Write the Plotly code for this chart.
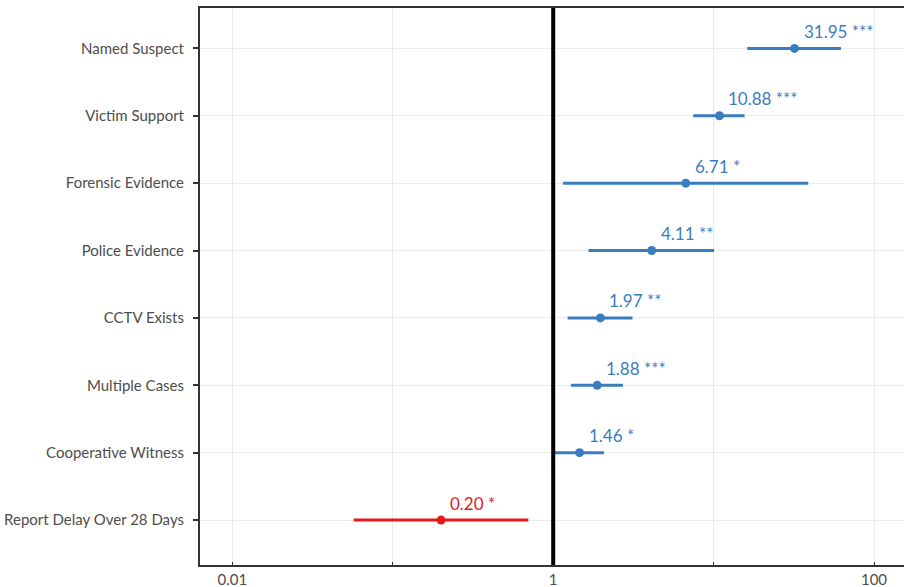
import math
import plotly.graph_objects as go

# Odds ratios with 95% confidence intervals (log scale)
factors = ["Report Delay Over 28 Days", "Cooperative Witness", "Multiple Cases",
           "CCTV Exists", "Police Evidence", "Forensic Evidence",
           "Victim Support", "Named Suspect"]
odds_ratio = [0.20, 1.46, 1.88, 1.97, 4.11, 6.71, 10.88, 31.95]
ci_low = [0.057, 1.02, 1.29, 1.23, 1.66, 1.15, 7.46, 16.2]
ci_high = [0.70, 2.07, 2.72, 3.12, 10.07, 38.9, 15.6, 62.2]
signif = ["*", "*", "***", "**", "**", "*", "***", "***"]

x_tick_vals = [0.01, 0.1, 1, 10, 100]
x_tick_text = ["0.01", "", "1", "", "100"]

BLUE = "#3a7dbf"
RED = "#e41a1c"
FONT = "Lato, Open Sans, sans-serif"
colors = [RED if v < 1 else BLUE for v in odds_ratio]

fig = go.Figure()

# Confidence interval segments
for f, lo, hi, c in zip(factors, ci_low, ci_high, colors):
    fig.add_trace(go.Scatter(
        x=[lo, hi], y=[f, f], mode="lines",
        line=dict(color=c, width=3), hoverinfo="skip", showlegend=False))

# Point estimates
fig.add_trace(go.Scatter(
    x=odds_ratio, y=factors, mode="markers",
    marker=dict(color=colors, size=9), showlegend=False))

# Value labels with significance stars (annotation x is in log10 units)
for f, v, s, c in zip(factors, odds_ratio, signif, colors):
    fig.add_annotation(
        x=math.log10(v), y=f, text=f"{v:.2f} {s}", showarrow=False,
        xanchor="left", yanchor="middle", xshift=7, yshift=17,
        font=dict(family=FONT, size=17, color=c))

# Reference line at OR = 1
fig.add_shape(type="line", xref="x", yref="paper", x0=1, x1=1, y0=0, y1=1,
              line=dict(color="black", width=4), layer="above")

fig.update_layout(
    width=904, height=587,
    margin=dict(l=200, r=0, t=8, b=22),
    plot_bgcolor="white", paper_bgcolor="white",
    font=dict(family=FONT, size=15, color="#4d4d4d"),
    xaxis=dict(
        type="log", range=[-2.202, 2.187],
        tickvals=x_tick_vals, ticktext=x_tick_text,
        showgrid=True, gridcolor="#ebebeb", gridwidth=1.2,
        showline=True, linecolor="#333333", linewidth=2, mirror=True,
        ticks="inside", ticklen=3, tickcolor="#333333", tickwidth=1,
        zeroline=False, tickfont=dict(size=15, color="#4d4d4d")),
    yaxis=dict(
        categoryorder="array", categoryarray=factors,
        range=[-0.667, 7.6],
        showgrid=True, gridcolor="#ebebeb", gridwidth=1.2,
        showline=True, linecolor="#333333", linewidth=2,
        ticks="outside", ticklen=5, tickcolor="#333333", tickwidth=2,
        ticklabelstandoff=6,
        zeroline=False, tickfont=dict(size=15, color="#4d4d4d")),
)

fig.write_html("out.html")
